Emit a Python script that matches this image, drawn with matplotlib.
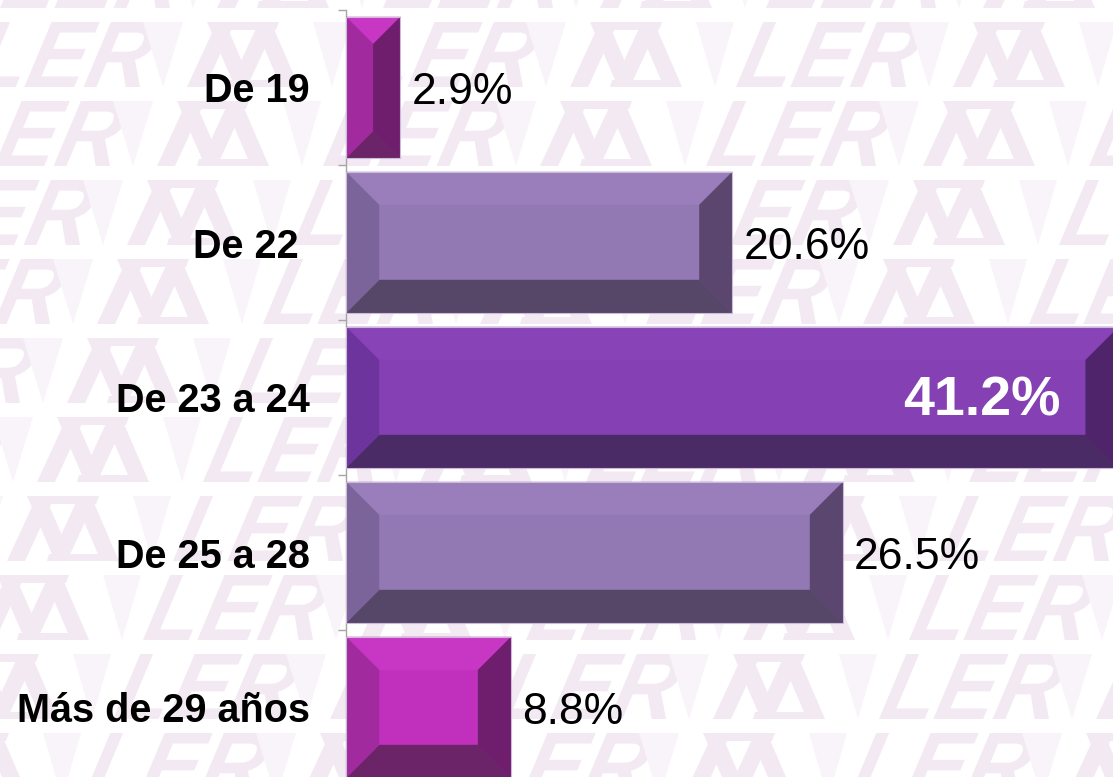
import matplotlib
matplotlib.use('Agg')
import matplotlib.pyplot as plt
import numpy as np
from matplotlib.patches import Polygon, PathPatch
from matplotlib.textpath import TextPath
from matplotlib.font_manager import FontProperties
from matplotlib.transforms import Affine2D

# ---------------- data ----------------
categories = ["De 19", "De 22 ", "De 23 a 24", "De 25 a 28", "Más de 29 años"]
values = [2.9, 20.6, 41.2, 26.5, 8.8]
value_labels = ["2.9%", "20.6%", "41.2%", "26.5%", "8.8%"]

# ---------------- styles ----------------
magenta = dict(front='#c030bc', top='#c737c3', left='#a02a9e', right='#6e1e6c', bottom='#6c2468')
lav = dict(front='#9279b3', top='#9a7dbb', left='#7b6499', right='#5a466e', bottom='#564668')
purple = dict(front='#8541b3', top='#8843b6', left='#6e349e', right='#4f246b', bottom='#4b2b66')
bar_styles = [magenta, lav, purple, lav, magenta]

FONT = 'Liberation Sans'
W, H = 1113, 777
fig = plt.figure(figsize=(W / 100, H / 100), dpi=100)

# ---------------- watermark background ----------------
bg = fig.add_axes([0, 0, 1, 1], zorder=0)
bg.set_xlim(0, W)
bg.set_ylim(H, 0)
bg.axis('off')
WM = '#f3e9f3'
WM_LIGHT = '#f9f4f9'
row_h = 65
period_y = 79
period_x = 383
slant = 0.42
fp = FontProperties(family=FONT, weight='bold')
ler_path = TextPath((0, 0), "LER", size=89, prop=fp)
ler_ext = ler_path.get_extents()


def motif(ms, yt, yb):
    strokes = [((0, 18), (30, 48)), ((48, 66), (20, 38)), ((42, 60), (72, 90)), ((94, 112), (66, 84)),
               ((30, 90), (30, 90))]
    for idx, ((b0, b1), (t0, t1)) in enumerate(strokes):
        if idx == 4:
            # thin top bar
            bg.add_patch(Polygon([(ms + 30, yt), (ms + 92, yt), (ms + 89, yt + 8), (ms + 33, yt + 8)],
                                 closed=True, fc=WM, ec='none'))
            continue
        bg.add_patch(Polygon([(ms + b0, yb), (ms + b1, yb), (ms + t1, yt), (ms + t0, yt)],
                             closed=True, fc=WM, ec='none'))
    # bottom bar
    bg.add_patch(Polygon([(ms + 40, yb), (ms + 100, yb), (ms + 102, yb - 7), (ms + 42, yb - 7)],
                         closed=True, fc=WM, ec='none'))


def tri(x0, x1, yt, yb):
    bg.add_patch(Polygon([(x0, yt), (x1, yt), ((x0 + x1) / 2, yb)], closed=True, fc=WM_LIGHT, ec='none'))


for k in range(-1, 11):
    yt = 22 + period_y * k
    yb = yt + row_h
    shift = -30 * k
    for n in range(-2, 5):
        ms = 187 + shift + period_x * n
        motif(ms, yt, yb)
        tri(ms - 44, ms - 4, yt, yb)
        tri(ms + 126, ms + 164, yt, yb)
        lx = ms + 166
        sx = 170 / (ler_ext.width)
        tr = (Affine2D().translate(-ler_ext.x0, 0).scale(sx, 65 / ler_ext.height)
              .skew(np.arctan(slant), 0).scale(1, -1).translate(lx, yb))
        p = tr.transform_path(ler_path)
        bg.add_patch(PathPatch(p, fc=WM, ec='none'))

# ---------------- main chart ----------------
ax_left_px, ax_right_px = 346, 1190
ax_top_px, ax_bot_px = 10, 785
ax = fig.add_axes([ax_left_px / W, (H - ax_bot_px) / H,
                   (ax_right_px - ax_left_px) / W, (ax_bot_px - ax_top_px) / H], zorder=1)
ax.patch.set_alpha(0)
xmax = 45
ax.set_xlim(0, xmax)
ax.set_ylim(len(categories) - 0.5, -0.5)

ypos = np.arange(len(categories))
bar_h = 0.91
bars = ax.barh(ypos, values, height=bar_h, color=[s['front'] for s in bar_styles], edgecolor='none', zorder=2)

ppx = (ax_right_px - ax_left_px) / xmax
ppy = (ax_bot_px - ax_top_px) / len(categories)
for rect, st in zip(bars, bar_styles):
    x0 = rect.get_x()
    x1 = x0 + rect.get_width()
    y0 = rect.get_y()
    y1 = y0 + rect.get_height()
    wpx = (x1 - x0) * ppx
    hpx = (y1 - y0) * ppy
    d = min(33, wpx / 2, hpx / 2)
    dx, dy = d / ppx, d / ppy
    faces = {
        'top': [(x0, y0), (x1, y0), (x1 - dx, y0 + dy), (x0 + dx, y0 + dy)],
        'bottom': [(x0, y1), (x1, y1), (x1 - dx, y1 - dy), (x0 + dx, y1 - dy)],
        'left': [(x0, y0), (x0 + dx, y0 + dy), (x0 + dx, y1 - dy), (x0, y1)],
        'right': [(x1, y0), (x1 - dx, y0 + dy), (x1 - dx, y1 - dy), (x1, y1)],
    }
    for name, pts in faces.items():
        ax.add_patch(Polygon(pts, closed=True, fc=st[name], ec=st[name], lw=0.3, zorder=3))
    ax.add_patch(Polygon([(x0, y0), (x1, y0), (x1, y1), (x0, y1)], closed=True, fill=False,
                         ec='#cbbad8', lw=0.8, zorder=4))

for i, (v, lab) in enumerate(zip(values, value_labels)):
    if v == max(values):
        ax.annotate(lab, (v, i), xytext=(-42, -3), textcoords='offset points', ha='right', va='center',
                    color='white', fontsize=40, fontweight='bold', family=FONT, zorder=5)
    else:
        ax.annotate(lab, (v, i), xytext=(8, -3.5), textcoords='offset points', ha='left', va='center',
                    color='black', fontsize=32, family=FONT, zorder=5)

for s in ['top', 'right', 'bottom']:
    ax.spines[s].set_visible(False)
ax.spines['left'].set_color('#a6a6a6')
ax.spines['left'].set_linewidth(1)
ax.set_xticks([])
ax.set_yticks(ypos)
ax.set_yticklabels(categories, fontsize=28.5, fontweight='bold', family=FONT)
ax.tick_params(axis='y', which='major', length=0, pad=26)
ax.set_yticks(np.arange(-0.5, len(categories), 1), minor=True)
ax.tick_params(axis='y', which='minor', length=5.8, color='#a6a6a6', width=1)

fig.savefig('out.png', dpi=100)
